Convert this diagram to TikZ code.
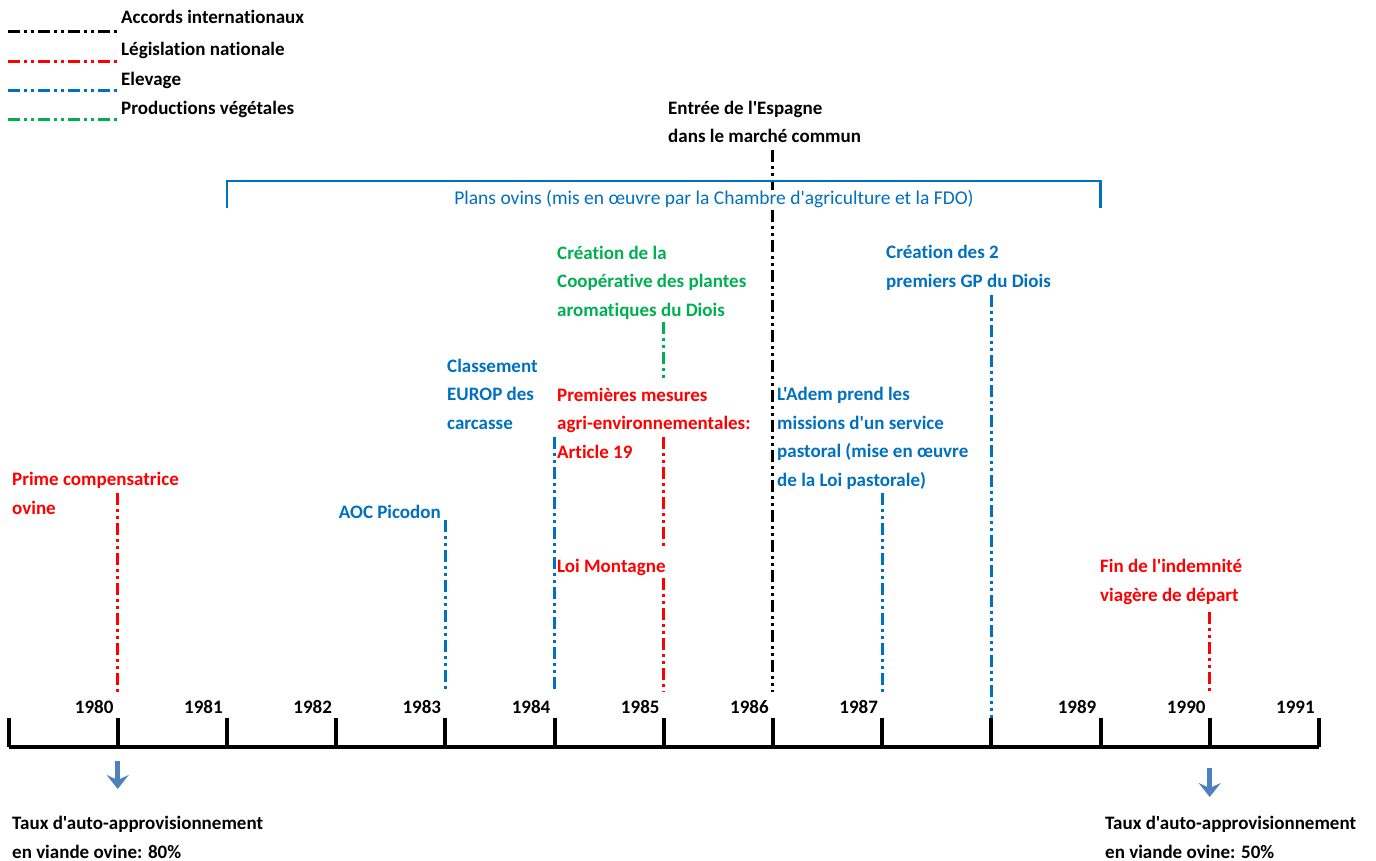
\documentclass[tikz,border=0pt]{standalone}
\usepackage{fontspec}
\setmainfont{Carlito}[Ligatures={TeXOff,CommonOff}]
\usetikzlibrary{arrows.meta}
\definecolor{evred}{RGB}{255,0,0}
\definecolor{evblue}{RGB}{0,112,192}
\definecolor{evgreen}{RGB}{0,176,80}
\definecolor{arrblue}{RGB}{79,129,189}

\begin{document}
\begin{tikzpicture}[x=1pt,y=-1pt,
    lbl/.style={anchor=base west,inner sep=0pt,align=left,font=\fontsize{19}{28.5}\selectfont\bfseries},
    evline/.style={line width=3pt,dash pattern=on 12pt off 4pt on 3pt off 4pt on 3pt off 4pt},
    yearlbl/.style={anchor=base east,inner sep=0pt,font=\fontsize{19}{23}\selectfont\bfseries},
    downarr/.style={arrblue,line width=5pt,-{Stealth[length=14pt,width=22pt,inset=5pt]}}]
  \useasboundingbox (0,0) rectangle (1376,861);

  % legend
  \draw[evline,black] (8,32) -- (117,32);
  \draw[evline,evred] (8,62) -- (117,62);
  \draw[evline,evblue] (8,91) -- (117,91);
  \draw[evline,evgreen] (8,120) -- (117,120);
  \node[lbl] (lga) at (121,24) {Accords internationaux};
  \node[lbl] (lgb) at (121,56) {Législation nationale};
  \node[lbl] (lgc) at (121,86) {Elevage};
  \node[lbl] (lgd) at (121,115) {Productions végétales};

  % axis
  \foreach \i in {0,...,12} {
    \coordinate (b\i) at (8.5+109.2*\i,747);
    \coordinate (t\i) at (8.5+109.2*\i,718);
    \coordinate (u\i) at (8.5+109.2*\i,692);
  }
  \draw[line width=3.5pt] (b0) -- (b12);
  \foreach \i in {0,...,12}
    \draw[line width=4pt] (b\i) -- (t\i);
  \foreach \i/\yr in {1/1980,2/1981,3/1982,4/1983,5/1984,6/1985,7/1986,8/1987,10/1989,11/1990,12/1991}
    \node[yearlbl] (yr\i) at ([xshift=-4pt,yshift=5pt]t\i) {\yr};

  % events
  \node[lbl,evred] (prime) at (12,514) {Prime compensatrice\\ovine};
  \node[lbl,evblue,anchor=base east] (aoc) at (441,518) {AOC Picodon};
  \node[lbl,evblue] (europ) at (447,429) {Classement\\EUROP des\\carcasse};
  \node[lbl,evgreen] (coop) at (557,316) {Création de la\\Coopérative des plantes\\aromatiques du Diois};
  \node[lbl,evred] (art19) at (557,458) {Premières mesures\\agri-environnementales:\\Article 19};
  \node[lbl,evred] (montagne) at (557,572) {Loi Montagne};
  \node[lbl] (espagne) at (668,143) {Entrée de l'Espagne\\dans le marché commun};
  \node[lbl,evblue] (adem) at (777,486) {L'Adem prend les\\missions d'un service\\pastoral (mise en œuvre\\de la Loi pastorale)};
  \node[lbl,evblue] (gp) at (886,287) {Création des 2\\premiers GP du Diois};
  \node[lbl,evred] (fin) at (1100,601) {Fin de l'indemnité\\viagère de départ};

  \coordinate (ep1) at (u1 |- 0,493);
  \coordinate (ep4) at (u4 |- 0,520);
  \coordinate (ep5) at (u5 |- 0,437);
  \coordinate (ep6a) at (u6 |- 0,437);
  \coordinate (ep6b) at (u6 |- 0,548);
  \coordinate (ep6c) at (u6 |- 0,578);
  \coordinate (ep6d) at (u6 |- 0,322);
  \coordinate (ep6e) at (u6 |- 0,380);
  \coordinate (ep7) at (u7 |- 0,150);
  \coordinate (ep8) at (u8 |- 0,493);
  \coordinate (ep9) at (u9 |- 0,295);
  \coordinate (ep11) at (u11 |- 0,612);
  \draw[evline,evred] (ep1) -- (u1);
  \draw[evline,evblue] (ep4) -- (u4);
  \draw[evline,evblue] (ep5) -- (u5);
  \draw[evline,evred] (ep6a) -- (ep6b);
  \draw[evline,evred] (ep6c) -- (u6);
  \draw[evline,evgreen] (ep6d) -- (ep6e);
  \draw[evline,black] (ep7) -- (u7);
  \draw[evline,evblue] (ep8) -- (u8);
  \draw[evline,evblue] (ep9) -- (t9);
  \draw[evline,evred] (ep11) -- (u11);

  % plans ovins
  \draw[evblue,line width=2.2pt] (b2 |- 0,208) -- (b2 |- 0,181) -- (b10 |- 0,181) -- (b10 |- 0,208);
  \node[evblue,fill=white,inner sep=1pt,anchor=base,font=\fontsize{19.5}{22}\selectfont] (plans) at (714,205)
    {Plans ovins (mis en œuvre par la Chambre d'agriculture et la FDO)};

  % taux
  \node[lbl] (taux80) at (12,858) {Taux d'auto-approvisionnement\\en viande ovine: 80\%};
  \node[lbl] (taux50) at (1105,858) {Taux d'auto-approvisionnement\\en viande ovine: 50\%};
  \coordinate (a1) at (b1 |- 0,761);
  \coordinate (a2) at (b1 |- 0,789);
  \coordinate (a3) at (b11 |- 0,768);
  \coordinate (a4) at (b11 |- 0,797);
  \draw[downarr] (a1) -- (a2);
  \draw[downarr] (a3) -- (a4);
\end{tikzpicture}
\end{document}
